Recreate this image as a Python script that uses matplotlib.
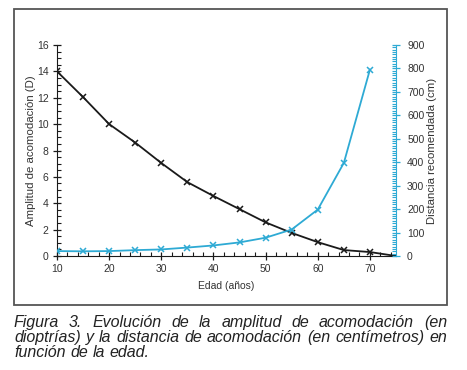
import matplotlib
matplotlib.use('Agg')
import matplotlib.pyplot as plt
from matplotlib.ticker import MultipleLocator
from matplotlib.patches import Rectangle

plt.rcParams['font.family'] = ['Liberation Sans', 'DejaVu Sans']

# datos
edad_amp = [10, 15, 20, 25, 30, 35, 40, 45, 50, 55, 60, 65, 70, 75]
amplitud = [14, 12.05, 10, 8.6, 7.05, 5.6, 4.55, 3.55, 2.55, 1.75, 1.05, 0.45, 0.3, 0.0]
edad_dist = [10, 15, 20, 25, 30, 35, 40, 45, 50, 55, 60, 65, 70]
distancia = [21, 20, 21, 25, 28, 36, 45, 58, 78, 113, 198, 397, 795]

caption = ["Figura 3. Evolución de la amplitud de acomodación (en",
           "dioptrías) y la distancia de acomodación (en centímetros) en",
           "función de la edad."]

negro = '#1a1a1a'
azul = '#2eaad4'
gris = '#333333'

fig = plt.figure(figsize=(4.67, 3.70), dpi=100)
fig.patch.set_facecolor('white')

# marco alrededor del grafico
fig.patches.append(Rectangle((14/467, 1-305/370), 433/467, 296/370, transform=fig.transFigure,
                             fill=False, edgecolor='#555555', linewidth=1.3))

ax = fig.add_axes([57/467, 1-256/370, 339/467, 211/370])
ax2 = ax.twinx()

ax.plot(edad_amp, amplitud, color=negro, lw=1.3, marker='x', ms=5, mew=1.1,
        markevery=list(range(len(edad_amp)-1)), zorder=3)
ax2.plot(edad_dist, distancia, color=azul, lw=1.3, marker='x', ms=5, mew=1.1)

ax.set_xlim(10, 75)
ax.set_ylim(0, 16)
ax2.set_ylim(0, 900)

for a in (ax, ax2):
    a.spines['top'].set_visible(False)
ax.spines['right'].set_visible(False)
ax2.spines['left'].set_visible(False)
ax2.spines['bottom'].set_visible(False)
ax2.spines['right'].set_color(azul)
ax.spines['left'].set_color(negro)
ax.spines['bottom'].set_color(negro)

ax.xaxis.set_major_locator(MultipleLocator(10))
ax.xaxis.set_minor_locator(MultipleLocator(2))
ax.yaxis.set_major_locator(MultipleLocator(2))
ax.yaxis.set_minor_locator(MultipleLocator(0.5))
ax2.yaxis.set_major_locator(MultipleLocator(100))
ax2.yaxis.set_minor_locator(MultipleLocator(10))

ax.tick_params(axis='both', which='major', direction='inout', length=6, width=0.9,
               labelsize=7.5, labelcolor=gris, color=negro, pad=3)
ax.tick_params(axis='both', which='minor', direction='in', length=3, width=0.8, color=negro)
ax2.tick_params(axis='y', which='major', direction='inout', length=6, width=0.9,
                labelsize=7.5, labelcolor=gris, color=azul, pad=5)
ax2.tick_params(axis='y', which='minor', direction='in', length=3, width=0.8, color=azul)

ax.set_xlabel('Edad (años)', fontsize=7.5, color=gris, labelpad=5)
ax.set_ylabel('Amplitud de acomodación (D)', fontsize=8.2, color=gris, labelpad=1)
ax2.set_ylabel('Distancia recomendada (cm)', fontsize=8.2, color=gris, labelpad=2)

# pie de figura justificado
renderer = fig.canvas.get_renderer()
x0, x1 = 14/467, 447/467
ys = [1-327/370, 1-342/370, 1-357/370]
fs = 11.5
for i, line in enumerate(caption):
    words = line.split(' ')
    txts = [fig.text(0, ys[i], w, fontsize=fs, style='italic', color='#222222',
                     ha='left', va='baseline') for w in words]
    widths = [t.get_window_extent(renderer).width / fig.bbox.width for t in txts]
    if i < len(caption) - 1:
        gap = (x1 - x0 - sum(widths)) / (len(words) - 1)
    else:
        sp = fig.text(0, 0, 'a a', fontsize=fs, style='italic')
        sp2 = fig.text(0, 0, 'aa', fontsize=fs, style='italic')
        gap = (sp.get_window_extent(renderer).width - sp2.get_window_extent(renderer).width) / fig.bbox.width
        sp.remove()
        sp2.remove()
    x = x0
    for t, w in zip(txts, widths):
        t.set_x(x)
        x += w + gap

fig.savefig('out.png', dpi=100)
